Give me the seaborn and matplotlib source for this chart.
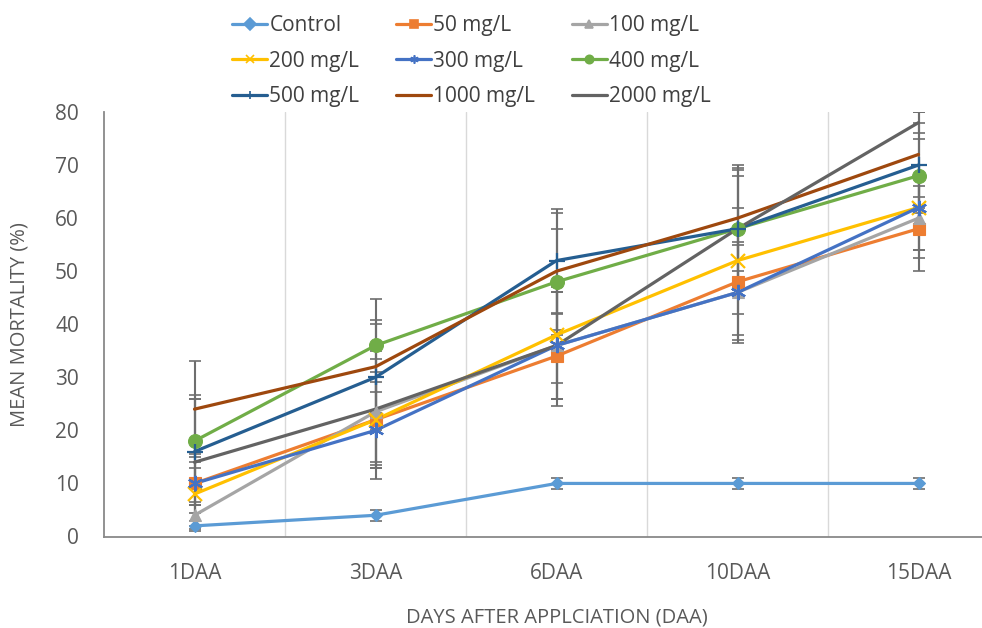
import numpy as np
import pandas as pd
import matplotlib
matplotlib.use("Agg")
import matplotlib.pyplot as plt
import seaborn as sns
from matplotlib.lines import Line2D

days = ["1DAA", "3DAA", "6DAA", "10DAA", "15DAA"]
series_names = ["Control", "50 mg/L", "100 mg/L", "200 mg/L", "300 mg/L",
                "400 mg/L", "500 mg/L", "1000 mg/L", "2000 mg/L"]

control = [2, 4, 10, 10, 10]
mg50 = [10, 22, 34, 48, 58]
mg100 = [4, 23.5, 36, 46, 60]
mg200 = [8, 22, 38, 52, 62]
mg300 = [10, 20, 36, 46, 62]
mg400 = [18, 36, 48, 58, 68]
mg500 = [16, 30, 52, 58, 70]
mg1000 = [24, 32, 50, 60, 72]
mg2000 = [14, 24, 36, 58, 78]

err_control = [1, 1, 1, 1, 1]
err_50 = [4, 8, 8, 10, 8]
err_100 = [2.5, 10, 10, 9, 7.5]
err_200 = [5, 9, 9, 10, 8]
err_300 = [5.5, 9.2, 10, 9.5, 8]
err_400 = [8.6, 8.7, 10, 10, 7]
err_500 = [10, 10, 9.8, 11.5, 8]
err_1000 = [9, 8.8, 11, 10, 8]
err_2000 = [12, 11, 11.5, 11, 2]

values = [control, mg50, mg100, mg200, mg300, mg400, mg500, mg1000, mg2000]
errors = [err_control, err_50, err_100, err_200, err_300, err_400, err_500, err_1000, err_2000]

colors = ["#5B9BD5", "#ED7D31", "#A5A5A5", "#FFC000", "#4472C4",
          "#70AD47", "#255E91", "#9E480E", "#636363"]
markers = ["D", "s", "^", "x", (6, 2, 0), "o", "+", "", ""]
msizes = [6.5, 8.5, 8.5, 10, 11, 10, 11, 0, 0]

rows = []
for name, vals in zip(series_names, values):
    for i, v in enumerate(vals):
        rows.append({"Series": name, "x": i, "y": v})
df = pd.DataFrame(rows)

sns.set_theme(style="white")
plt.rcParams["font.family"] = ["Open Sans", "DejaVu Sans"]

fig = plt.figure(figsize=(9.82, 6.28), dpi=100)
ax = fig.add_axes([104 / 982, (628 - 536.5) / 628, 905 / 982, (536.5 - 112) / 628])

# error bars
for vals, errs in zip(values, errors):
    ax.errorbar(range(len(days)), vals, yerr=errs, fmt="none", ecolor="#6E6E6E",
                elinewidth=1.5, capsize=4, capthick=1.2, zorder=2)

sns.lineplot(data=df, x="x", y="y", hue="Series", hue_order=series_names,
             palette=colors, ax=ax, legend=False, linewidth=2.3, zorder=3)

for i, (vals, c, m, ms) in enumerate(zip(values, colors, markers, msizes)):
    if m:
        ax.plot(range(len(days)), vals, linestyle="none", marker=m, markersize=ms,
                color=c, markeredgecolor=c,
                markeredgewidth=1.6 if m in ("x", "+", (6, 2, 0)) else 0.8,
                zorder=4)

ax.set_xlim(-0.5, 4.5)
ax.set_ylim(0, 80)
ax.set_yticks(range(0, 81, 10))
ax.set_xticks(range(len(days)))
ax.set_xticklabels(days)
ax.tick_params(axis="both", length=0, labelsize=15, labelcolor="#595959")
ax.tick_params(axis="x", pad=19)
ax.tick_params(axis="y", pad=18)
for x in [0.5, 1.5, 2.5, 3.5]:
    ax.axvline(x, color="#D9D9D9", linewidth=1, zorder=0)
for s in ["top", "right"]:
    ax.spines[s].set_visible(False)
for s in ["left", "bottom"]:
    ax.spines[s].set_color("#898989")
    ax.spines[s].set_linewidth(1.3)
ax.set_xlabel("DAYS AFTER APPLCIATION (DAA)", fontsize=14.5, color="#595959")
ax.xaxis.label.set_va("center")
ax.xaxis.set_label_coords(0.5, (536.5 - 617) / 424.5)
ax.set_ylabel("MEAN MORTALITY (%)", fontsize=14.5, color="#595959")
ax.yaxis.label.set_va("center")
ax.yaxis.set_label_coords((20 - 104) / 905, 0.5)

handles = []
for name, c, m in zip(series_names, colors, markers):
    handles.append(Line2D([0], [0], color=c, linewidth=2.3, marker=m if m else None,
                          markersize=6, markeredgewidth=1.2, label=name))
order = [0, 3, 6, 1, 4, 7, 2, 5, 8]
fig.legend([handles[i] for i in order], [series_names[i] for i in order],
           loc="upper center", bbox_to_anchor=(0.48, 1.006), ncol=3, frameon=False,
           fontsize=15, labelcolor="#404040", handlelength=1.7, handletextpad=0.1,
           columnspacing=1.75, labelspacing=0.7)

fig.savefig("out.png", dpi=100)
